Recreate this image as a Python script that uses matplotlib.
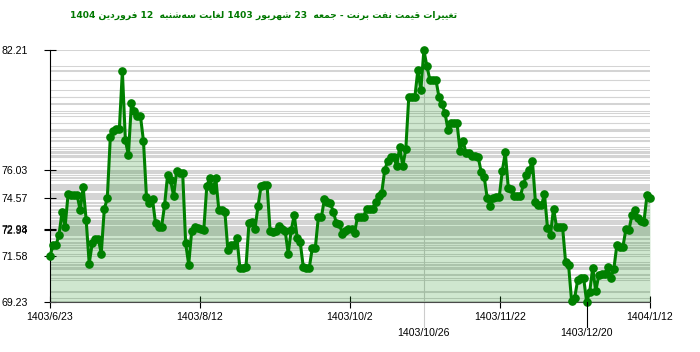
import re
import numpy as np
import matplotlib
matplotlib.use("Agg")
import matplotlib.pyplot as plt
import matplotlib.transforms as mtransforms

# Brent price, one point per day, 1403/6/23 .. 1404/1/12
price = [
    71.59, 72.16, 72.16, 72.71, 73.88, 73.10, 74.79, 74.74, 74.74, 74.74,
    73.97, 75.14, 73.45, 71.21, 72.25, 72.47, 72.50, 71.73, 74.02, 74.57,
    77.72, 78.06, 78.15, 78.15, 81.14, 77.58, 76.80, 79.47, 79.09, 78.82,
    78.82, 77.53, 74.64, 74.36, 74.53, 73.28, 73.10, 73.10, 74.22, 75.77,
    75.51, 74.70, 75.98, 75.89, 75.89, 72.25, 71.16, 72.90, 73.10, 73.05,
    72.97, 72.93, 75.20, 75.65, 75.03, 75.60, 73.97, 73.95, 73.88, 71.90,
    72.19, 72.19, 72.53, 70.96, 70.98, 71.04, 73.31, 73.36, 73.02, 74.19,
    75.20, 75.26, 75.26, 72.88, 72.85, 72.88, 73.14, 72.97, 72.90, 71.73,
    72.93, 73.71, 72.53, 72.30, 71.04, 71.00, 71.00, 72.02, 72.04, 73.59,
    73.59, 74.53, 74.39, 74.31, 73.88, 73.28, 73.24, 72.73, 72.90, 72.98,
    72.98, 72.80, 73.62, 73.62, 73.62, 74.05, 74.05, 74.05, 74.39, 74.69,
    74.83, 76.03, 76.51, 76.69, 76.69, 76.25, 77.23, 76.25, 77.10, 79.81,
    79.78, 79.78, 81.19, 80.16, 82.21, 81.40, 80.68, 80.68, 80.68, 79.81,
    79.42, 79.00, 78.10, 78.44, 78.44, 78.44, 77.03, 77.54, 76.89, 76.89,
    76.75, 76.75, 76.72, 75.94, 75.68, 74.60, 74.19, 74.60, 74.65, 74.65,
    75.98, 76.94, 75.12, 75.05, 74.70, 74.68, 74.68, 75.29, 75.77, 76.05,
    76.51, 74.39, 74.22, 74.22, 74.79, 73.05, 72.71, 74.05, 73.10, 73.10,
    73.10, 71.30, 71.13, 69.27, 69.44, 70.35, 70.47, 70.45, 69.23, 69.75,
    71.00, 69.78, 70.61, 70.66, 70.68, 71.04, 70.49, 70.92, 72.16, 72.07,
    72.07, 72.97, 72.93, 73.71, 74.00, 73.54, 73.40, 73.38, 74.74, 74.57,
]

n_days = 200
tick_days = [0, 50, 100, 150, 200]
tick_labels = ["1403/6/23", "1403/8/12", "1403/10/2", "1403/11/22", "1404/1/12"]
max_label = "1403/10/26"
min_label = "1403/12/20"
y_marks = [82.21, 76.03, 74.57, 72.98, 72.94, 71.58, 69.23]

title = "تغییرات قیمت نفت برنت - جمعه  23 شهریور 1403 لغایت سه\u200cشنبه  12 فروردین 1404"

# --- tiny persian shaper (matplotlib has no bidi / shaping) ---
FORMS = {
    "ا": ("\uFE8D", "\uFE8E", None, None),
    "ب": ("\uFE8F", "\uFE90", "\uFE91", "\uFE92"),
    "ت": ("\uFE95", "\uFE96", "\uFE97", "\uFE98"),
    "ج": ("\uFE9D", "\uFE9E", "\uFE9F", "\uFEA0"),
    "د": ("\uFEA9", "\uFEAA", None, None),
    "ر": ("\uFEAD", "\uFEAE", None, None),
    "س": ("\uFEB1", "\uFEB2", "\uFEB3", "\uFEB4"),
    "ش": ("\uFEB5", "\uFEB6", "\uFEB7", "\uFEB8"),
    "ع": ("\uFEC9", "\uFECA", "\uFECB", "\uFECC"),
    "غ": ("\uFECD", "\uFECE", "\uFECF", "\uFED0"),
    "ف": ("\uFED1", "\uFED2", "\uFED3", "\uFED4"),
    "ق": ("\uFED5", "\uFED6", "\uFED7", "\uFED8"),
    "ل": ("\uFEDD", "\uFEDE", "\uFEDF", "\uFEE0"),
    "م": ("\uFEE1", "\uFEE2", "\uFEE3", "\uFEE4"),
    "ن": ("\uFEE5", "\uFEE6", "\uFEE7", "\uFEE8"),
    "ه": ("\uFEE9", "\uFEEA", "\uFEEB", "\uFEEC"),
    "و": ("\uFEED", "\uFEEE", None, None),
    "ی": ("\uFEEF", "\uFEF0", "\uFEF3", "\uFEF4"),
}


def shape_fa(s):
    out = []
    for i, ch in enumerate(s):
        if ch not in FORMS:
            if ch != "\u200c":
                out.append(ch)
            continue
        prev = s[i - 1] if i > 0 else ""
        nxt = s[i + 1] if i + 1 < len(s) else ""
        j_prev = prev in FORMS and FORMS[prev][2] is not None
        j_next = nxt in FORMS and FORMS[ch][2] is not None
        f = FORMS[ch]
        if j_prev and j_next:
            out.append(f[3])
        elif j_prev:
            out.append(f[1])
        elif j_next:
            out.append(f[2])
        else:
            out.append(f[0])
    vis = "".join(out)[::-1]
    return re.sub(r"\d+", lambda m: m.group()[::-1], vis)


plt.rcParams["font.family"] = ["Liberation Sans", "DejaVu Sans"]

fig = plt.figure(figsize=(7, 3.52), dpi=100)
ax = fig.add_axes([50 / 700, 50 / 352, 600 / 700, 251.7 / 352])

x = np.linspace(0, n_days, len(price))
y = np.array(price)

# a faint horizontal line at every price level
for v in price:
    ax.axhline(v, color="#d4d4d4", lw=0.75, zorder=1)

ax.fill_between(x, y, 69.23, color="green", alpha=0.19, lw=0, zorder=2)
ax.plot(x, y, color="#008000", lw=2.2, marker="o", ms=5.2, zorder=4, clip_on=False)

trans = mtransforms.blended_transform_factory(ax.transData, ax.transAxes)
imax = int(np.argmax(y))
imin = int(np.argmin(y))
ax.plot([x[imax], x[imax]], [-0.1, 1.0], transform=trans, color="#cccccc", lw=0.8,
        zorder=1.5, clip_on=False)
ax.plot([x[imin], x[imin]], [-0.1, 0.0], transform=trans, color="black", lw=0.8,
        zorder=5, clip_on=False)
ax.text(x[imax], -0.125, max_label, transform=trans, ha="center", va="center", fontsize=7.6)
ax.text(x[imin], -0.125, min_label, transform=trans, ha="center", va="center", fontsize=7.6)

ax.set_xlim(0, n_days)
ax.set_ylim(69.23, 82.21)
ax.set_xticks(tick_days)
ax.set_xticklabels(tick_labels, fontsize=7.6)
ax.set_yticks(y_marks)
ax.set_yticklabels([f"{v:.2f}" for v in y_marks], fontsize=7.6)
ax.tick_params(axis="both", direction="inout", length=8, width=0.8, color="black")
ax.tick_params(axis="y", pad=12)
ax.tick_params(axis="x", pad=3)

for s in ("top", "right"):
    ax.spines[s].set_visible(False)
ax.spines["left"].set_color("black")
ax.spines["left"].set_linewidth(0.8)
ax.spines["bottom"].set_color("#4a4a4a")
ax.spines["bottom"].set_linewidth(0.8)

fig.text(264 / 700, 1 - 15 / 352, shape_fa(title), ha="center", va="center",
         color="#007800", fontsize=6.6, fontweight="bold", family="DejaVu Sans")

fig.savefig("out.png", dpi=100)
